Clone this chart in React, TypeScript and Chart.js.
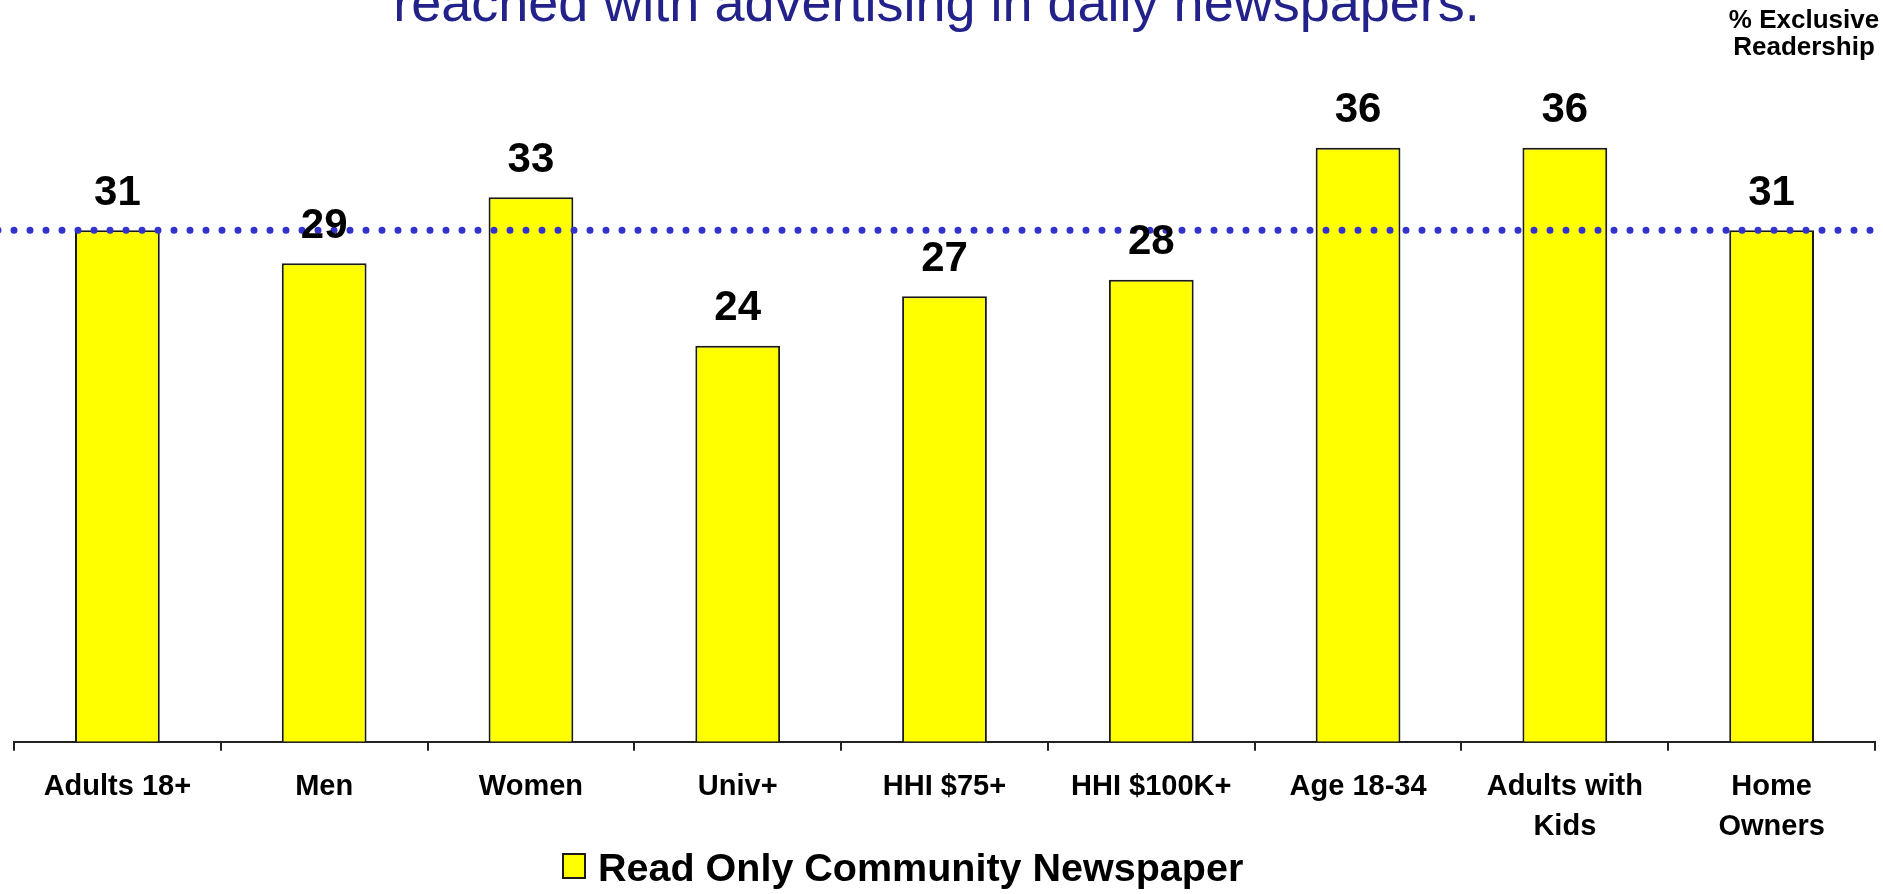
import React, { useEffect, useRef } from "react";
import { Chart, registerables } from "chart.js";

Chart.register(...registerables);

const categories: (string | string[])[] = [
  "Adults 18+",
  "Men",
  "Women",
  "Univ+",
  "HHI $75+",
  "HHI $100K+",
  "Age 18-34",
  ["Adults with", "Kids"],
  ["Home", "Owners"],
];
const readOnlyCommunity: number[] = [31, 29, 33, 24, 27, 28, 36, 36, 31];
const seriesName = "Read Only Community Newspaper";
const referenceValue = 31;
const titleText = "reached with advertising in daily newspapers.";
const cornerNote: string[] = ["% Exclusive", "Readership"];
const yMin = 0;
const yMax = 40;

const FONT = '"Liberation Sans", Arial, Helvetica, sans-serif';
const BAR_FILL = "#FFFF00";
const BAR_EDGE = "#1a1a1a";
const DOT_BLUE = "#3333CC";
const TITLE_BLUE = "#22228A";

const overlayPlugin = {
  id: "overlayPlugin",
  afterDatasetsDraw(chart: any) {
    const { ctx, chartArea, scales } = chart;
    const y = scales.y.getPixelForValue(referenceValue);
    ctx.save();
    // dotted reference line
    ctx.strokeStyle = DOT_BLUE;
    ctx.lineWidth = 7;
    ctx.lineCap = "round";
    ctx.setLineDash([0, 16]);
    ctx.beginPath();
    ctx.moveTo(chartArea.left - 16, y);
    ctx.lineTo(chartArea.right - 4, y);
    ctx.stroke();
    ctx.setLineDash([]);
    // value labels
    const meta = chart.getDatasetMeta(0);
    ctx.fillStyle = "#000";
    ctx.font = `bold 42px ${FONT}`;
    ctx.textAlign = "center";
    ctx.textBaseline = "alphabetic";
    meta.data.forEach((bar: any, i: number) => {
      ctx.fillText(String(readOnlyCommunity[i]), bar.x, bar.y - 25.5);
    });
    ctx.restore();
  },
  afterDraw(chart: any) {
    const { ctx, width } = chart;
    ctx.save();
    // title (partially above the canvas)
    ctx.fillStyle = TITLE_BLUE;
    ctx.font = `54px ${FONT}`;
    ctx.textAlign = "center";
    ctx.textBaseline = "alphabetic";
    ctx.fillText(titleText, width / 2 - 5, 21);
    // corner note
    ctx.fillStyle = "#000";
    ctx.font = `bold 26px ${FONT}`;
    ctx.fillText(cornerNote[0], 1804, 27.5);
    ctx.fillText(cornerNote[1], 1804, 55);
    // legend
    ctx.fillStyle = BAR_FILL;
    ctx.fillRect(563, 854, 22, 24);
    ctx.strokeStyle = BAR_EDGE;
    ctx.lineWidth = 2;
    ctx.strokeRect(563, 854, 22, 24);
    ctx.fillStyle = "#000";
    ctx.font = `bold 39.5px ${FONT}`;
    ctx.textAlign = "left";
    ctx.fillText(seriesName, 598, 881);
    ctx.restore();
  },
};

export default function App() {
  const canvasRef = useRef<HTMLCanvasElement | null>(null);

  useEffect(() => {
    const canvas = canvasRef.current;
    if (!canvas) return;
    const chart = new Chart(canvas, {
      type: "bar",
      data: {
        labels: categories,
        datasets: [
          {
            label: seriesName,
            data: readOnlyCommunity,
            backgroundColor: BAR_FILL,
            borderColor: BAR_EDGE,
            borderWidth: 2,
            categoryPercentage: 1,
            barPercentage: 0.41,
          },
        ],
      },
      options: {
        responsive: false,
        animation: false,
        layout: {
          padding: { left: 14, right: 8, top: 81.7, bottom: 30.3 },
        },
        plugins: {
          legend: { display: false },
          title: { display: false },
          tooltip: { enabled: false },
        },
        scales: {
          x: {
            grid: {
              display: true,
              drawOnChartArea: false,
              drawTicks: true,
              tickLength: 9,
              color: "#222",
              lineWidth: 2,
              offset: true,
            },
            border: { display: true, color: "#222", width: 2 },
            ticks: {
              color: "#000",
              padding: 16.5,
              maxRotation: 0,
              autoSkip: false,
              font: { family: FONT, size: 29, weight: "bold", lineHeight: 40 / 29 },
            },
          },
          y: {
            display: false,
            min: yMin,
            max: yMax,
          },
        },
      },
      plugins: [overlayPlugin],
    });
    return () => chart.destroy();
  }, []);

  return (
    <div style={{ position: "absolute", left: 0, top: 0, width: 1883, height: 894, background: "#fff" }}>
      <canvas ref={canvasRef} width={1883} height={894} style={{ width: 1883, height: 894, display: "block" }} />
    </div>
  );
}
